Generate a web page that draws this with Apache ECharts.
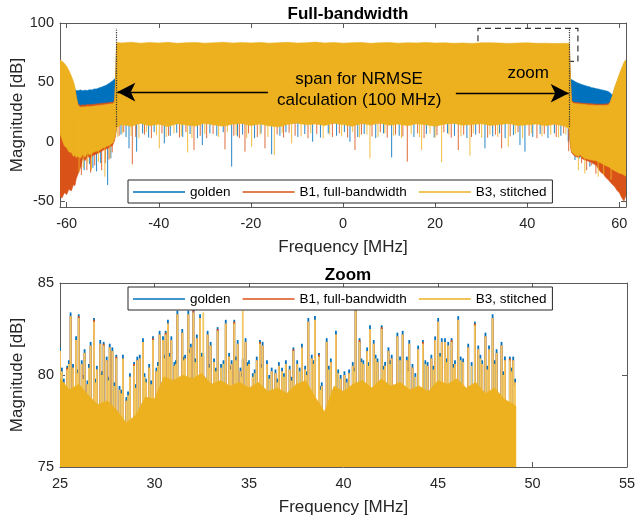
<!DOCTYPE html>
<html>
<head>
<meta charset="utf-8">
<script src="https://cdn.jsdelivr.net/npm/echarts@6/dist/echarts.min.js"></script>
<style>
  html, body { margin: 0; padding: 0; background: #fff; }
  #chart { width: 637px; height: 520px; }
</style>
</head>
<body>
<div id="chart"></div>
<script>
var FONT = '"Liberation Sans", Arial, Helvetica, sans-serif';
var BLUE = '#0072BD', RED = '#D95319', YELLOW = '#EDB120', PALE_YELLOW = '#F3C862';
var seriesNames = ['golden', 'B1, full-bandwidth', 'B3, stitched'];

// ---- Full-bandwidth panel: envelope of each spectrum, rows = [freq MHz, low dB, high dB]
var goldenBand = [
  [-61.44, 8, 60], [-61.0, 3, 59], [-60.0, -4, 55], [-59.0, -8, 49], [-58.2, -10, 43.5],
  [-57.9, -12, 43.2], [-57.5, -11, 43.0], [-57.0, -12, 43.6], [-56.5, -10, 42.9], [-56.0, -12, 43.4],
  [-55.5, -9, 43.1], [-55.0, -10, 43.8], [-54.5, -9, 43.6], [-54.0, -8, 44.4], [-53.5, -7, 44.5],
  [-53.0, -7, 45.3], [-52.5, -6, 45.8], [-52.0, -4.5, 46.7], [-51.5, -4, 47.4], [-51.0, -3, 48.6],
  [-50.5, -2, 49.8], [-50.0, -0.5, 51.3], [-49.6, 3, 52.8], [-49.4, 6.5, 53.5], [-49.25, 10.5, 65],
  [-49.14, 16, 82], [-30, 16, 82], [0, 16, 82], [30, 16, 82], [49.14, 16, 82],
  [49.25, 5, 62], [49.4, -2, 52.8], [49.6, -7, 52.3], [50.0, -9, 51.5], [50.4, -10, 50.6],
  [51.0, -11, 49.4], [51.5, -10, 48.7], [52.0, -12, 47.9], [52.5, -12.5, 47.4], [53.0, -13.5, 46.7],
  [53.5, -14, 46.3], [54.0, -14.5, 45.5], [54.5, -15, 45.2], [55.0, -15, 44.6], [55.5, -16, 44.3],
  [56.0, -17, 43.8], [56.5, -18, 43.4], [57.0, -19, 43.0], [57.6, -20, 42.2], [58.2, -21.5, 40.5],
  [58.5, -22.5, 39], [59.0, -23.5, 45], [60.0, -25.5, 55], [61.0, -27, 64], [61.44, -28, 66]
];
var b1Band = [
  [-61.44, -46, 66], [-61.0, -47.5, 65], [-60.5, -43, 63], [-60.0, -44.5, 61], [-59.5, -40, 57],
  [-59.0, -41.5, 53], [-58.5, -36, 48.5], [-58.2, -37, 44], [-57.9, -31, 36], [-57.5, -27, 31.5],
  [-57.0, -22, 30.6], [-56.5, -14, 31.0], [-56.0, -16, 30.8], [-55.5, -12, 31.3], [-55.0, -13.5, 31.2],
  [-54.0, -11, 31.6], [-53.0, -9.5, 32.0], [-52.0, -7, 32.4], [-51.0, -5.5, 32.8], [-50.0, -3, 33.2],
  [-49.6, 1, 34.5], [-49.4, 5, 48], [-49.25, 9, 66], [-49.14, 16, 80], [0, 16, 80],
  [49.14, 16, 80], [49.25, 3, 66], [49.4, -4, 50], [49.6, -9, 35.0], [50.0, -11, 33.4],
  [50.5, -12.5, 33.1], [51.0, -13, 32.9], [51.5, -12, 32.6], [52.0, -14.5, 32.5], [53.0, -16, 32.1],
  [54.0, -17.5, 31.9], [55.0, -20, 31.6], [55.5, -23, 31.6], [56.0, -26, 31.6], [56.5, -27, 31.6],
  [57.0, -30, 31.7], [57.6, -32, 32.0], [58.0, -34, 33.5], [58.5, -36, 38], [59.0, -38, 44],
  [59.5, -41, 50], [60.0, -43, 55], [60.5, -47, 60], [61.0, -50, 64], [61.44, -45, 66]
];
var b3Band = [
  [-61.44, 7.0, 68.8], [-61.0, 2.0, 67.8], [-60.5, -3.5, 66.0], [-60.0, -5.0, 63.5], [-59.5, -8.5, 60.0],
  [-59.0, -9.0, 55.5], [-58.5, -12.5, 50.5], [-58.2, -11.0, 45.5], [-57.9, -13.5, 38.0], [-57.5, -12.0, 30.5],
  [-57.0, -14.0, 29.0], [-56.5, -10.5, 29.3], [-56.0, -13.0, 29.2], [-55.5, -9.5, 29.6], [-55.0, -11.0, 29.5],
  [-54.0, -8.5, 30.0], [-53.0, -7.5, 30.5], [-52.0, -5.0, 31.0], [-51.0, -3.5, 31.5], [-50.0, -1.0, 32.0],
  [-49.6, 2.5, 33.5], [-49.4, 6.0, 50.0], [-49.25, 10.0, 70.0],
  [-49.14, 12.0, 83.5], [-48, 14.5, 83.2], [-46, 13.0, 83.8], [-44, 15.5, 83.0], [-42, 13.5, 83.5],
  [-40, 14.8, 83.1], [-38, 12.8, 83.7], [-36, 15.2, 82.9], [-34, 14.0, 83.4], [-32, 13.2, 83.6],
  [-30, 15.6, 83.0], [-28, 14.1, 83.3], [-26, 13.0, 83.8], [-24, 14.7, 83.1], [-22, 15.4, 83.5],
  [-20, 13.6, 83.2], [-18, 14.9, 83.6], [-16, 13.3, 83.0], [-14, 12.5, 83.4], [-12, 14.6, 83.7],
  [-10, 15.8, 83.1], [-8, 14.2, 83.3], [-6, 15.0, 83.9], [-4, 13.7, 83.2], [-2, 15.5, 83.5],
  [0, 14.4, 83.0], [2, 13.1, 83.4], [4, 15.3, 83.6], [6, 14.0, 82.9], [8, 15.7, 83.3],
  [10, 13.8, 83.5], [12, 14.9, 83.0], [14, 13.4, 83.4], [16, 15.1, 83.2], [18, 14.3, 83.6],
  [20, 13.0, 83.1], [22, 14.8, 83.3], [24, 15.5, 82.9], [26, 13.9, 83.2], [28, 14.6, 82.8],
  [30, 15.2, 83.3], [32, 13.7, 83.4], [34, 14.5, 83.1], [36, 15.4, 82.8], [38, 13.6, 83.1],
  [40, 14.2, 83.3], [42, 15.0, 82.9], [44, 13.5, 83.0], [46, 14.7, 82.7], [48, 13.2, 82.9],
  [49.14, 11.0, 82.8],
  [49.25, 4.0, 70.0], [49.4, -3.0, 52.0], [49.6, -8.0, 34.0], [50.0, -10.0, 32.3], [50.5, -11.5, 32.0],
  [51.0, -12.0, 31.8], [51.5, -11.0, 31.6], [52.0, -13.0, 31.5], [53.0, -14.5, 31.0], [54.0, -15.5, 30.8],
  [55.0, -16.0, 30.5], [56.0, -18.0, 30.5], [57.0, -20.0, 30.5], [57.6, -21.0, 30.8], [58.0, -22.0, 33.0],
  [58.5, -23.5, 39.0], [59.0, -24.5, 46.0], [59.5, -25.5, 51.5], [60.0, -26.5, 57.0], [60.5, -27.0, 62.0],
  [61.0, -28.0, 67.0], [61.44, -29.0, 69.0]
];

// downward spikes below the envelopes, rows = [freq MHz, dB]
var goldenDips = [
  [-56.2, -24], [-55.0, -19], [-54.3, -22], [-53.5, -25], [-52.6, -18], [-51.1, -36.5], [-50.4, -14],
  [-46.46, -5.6], [-44.8, -8.4], [-38.79, -1.4], [-30.54, -2.8], [-24.17, -21], [-15.49, -10.6], [-6.59, 0],
  [1.51, 0], [10.56, -13.2], [30.82, -5.6], [38.42, -2.8], [39.5, -8.4], [48.9, 0],
  [-48.2, 6], [-47.1, 4], [-43.5, 7], [-42.2, 3.5], [-41, 8], [-37.5, 5], [-36.1, 7.5], [-34.8, 4],
  [-33.2, 6.5], [-31.6, 3], [-28.9, 7], [-27.4, 5], [-26.0, 8], [-22.9, 4.5], [-21.8, 6], [-19.2, 3],
  [-17.8, 7], [-13.7, 5], [-12.4, 8], [-9.8, 4], [-8.3, 6.5], [-4.9, 3.5], [-3.2, 7], [-1.4, 5],
  [0.3, 8], [3.2, 4], [4.6, 6.5], [7.1, 3], [8.8, 7], [12.2, 5], [15.4, 4], [18.1, 6.5], [19.8, 3.5],
  [22.7, 7], [24.2, 5], [26.9, 3], [28.8, 6], [32.5, 4.5], [34.0, 7], [35.2, 3], [37.0, 5.5], [41.2, 4],
  [42.8, 6.5], [44.5, 3], [45.9, 7], [47.3, 5],
  [50.37, -15.4], [51.4, -14], [53.6, -21.1], [54.3, -19], [55.8, -24], [57.2, -26]
];
var b1Dips = [
  [-56.8, -28], [-55.6, -24], [-54.8, -26], [-53.9, -20], [-52.4, -23.9], [-51.6, -18], [-50.8, -15], [-50.1, -9],
  [-45.74, -19.1], [-32.35, -7], [-25.62, -6.4], [-21.28, -8.4], [-16.94, -5.6], [2.6, -7], [13.96, -16.8],
  [25.03, -7], [34.44, -5.6], [49.0, -8],
  [-48.6, 5], [-47.6, 8], [-45.0, 4], [-43.1, 6], [-41.6, 3], [-39.3, 7], [-37.9, 5], [-35.5, 3.5],
  [-34.1, 8], [-31.0, 5], [-29.6, 3], [-28.2, 6.5], [-23.7, 5], [-22.5, 3], [-20.5, 7], [-18.6, 4],
  [-14.3, 6], [-12.9, 3.5], [-11.7, 7.5], [-10.4, 5], [-7.6, 3], [-5.7, 6.5], [-2.3, 4], [-0.8, 7],
  [1.0, 3.5], [4.0, 6], [6.3, 4.5], [8.1, 8], [9.6, 3.5], [11.4, 6], [13.0, 4.5], [16.2, 7], [17.6, 3],
  [20.4, 5.5], [21.9, 8], [23.5, 3.5], [26.2, 6], [27.9, 4], [29.6, 7], [31.4, 3.5], [33.1, 6],
  [36.3, 4.5], [38.0, 8], [40.4, 5], [42.1, 3], [43.7, 6.5], [46.3, 4], [47.9, 7],
  [51.8, -18.2], [52.9, -24], [53.9, -20], [54.9, -27]
];
var b3Dips = [
  [-57.3, -26], [-56.4, -22], [-55.4, -18], [-54.6, -24], [-53.1, -17], [-51.7, -29.5], [-50.6, -14],
  [-39.88, -5.6], [-33.73, -9], [-19.83, -4.2], [-14.91, -11.2], [-11.15, -1.4], [5.85, -14], [17.07, -7],
  [21.41, -17.4], [27.56, -11.8], [35.88, -4.2],
  [-48.9, 4], [-47.9, 7], [-46.0, 5], [-44.3, 3], [-42.7, 8], [-40.5, 5.5], [-38.4, 4], [-36.7, 7],
  [-35.1, 5], [-32.8, 3], [-30.0, 6.5], [-27.0, 4], [-25.1, 8], [-23.2, 5.5], [-20.9, 3], [-18.0, 6],
  [-16.3, 4], [-13.2, 7.5], [-9.1, 4.5], [-7.0, 7], [-4.3, 3], [-2.9, 6], [-0.3, 4.5], [2.1, 8],
  [3.6, 3.5], [5.2, 6], [7.6, 4], [9.1, 7], [11.0, 5], [12.7, 3], [14.8, 6.5], [16.6, 4], [18.9, 7],
  [20.0, 3.5], [23.0, 6], [25.6, 4.5], [28.3, 7], [30.1, 3.5], [31.9, 6], [33.6, 4], [37.4, 6.5],
  [39.0, 3], [40.9, 7], [43.2, 4.5], [45.1, 6], [46.8, 3.5], [48.4, 6],
  [51.1, -23.9], [52.5, -26.7], [55.4, -29.5], [56.6, -28], [58.2, -32]
];

// ---- Zoom panel (25..55 MHz): peak values at each resolved peak
var zoomFreq = [
  25.00, 25.20, 25.38, 25.56, 25.69, 25.85, 25.99, 26.15, 26.30, 26.45,
  26.62, 26.80, 26.95, 27.13, 27.31, 27.47, 27.63, 27.77, 27.98, 28.15,
  28.33, 28.51, 28.70, 28.92, 29.09, 29.22, 29.39, 29.55, 29.72, 29.92,
  30.10, 30.27, 30.45, 30.59, 30.71, 30.89, 31.05, 31.21, 31.47, 31.62,
  31.79, 31.92, 32.06, 32.24, 32.41, 32.58, 32.81, 32.97, 33.15, 33.34,
  33.52, 33.77, 33.95, 34.08, 34.22, 34.40, 34.55, 34.67, 34.82, 35.00,
  35.20, 35.41, 35.58, 35.72, 35.95, 36.20, 36.40, 36.58, 36.75, 36.95,
  37.15, 37.35, 37.55, 37.80, 37.97, 38.14, 38.32, 38.49, 38.70, 38.85,
  39.11, 39.33, 39.60, 39.85, 40.05, 40.30, 40.49, 40.64, 40.85, 41.05,
  41.25, 41.40, 41.60, 41.80, 42.02, 42.20, 42.38, 42.55, 42.85, 43.13,
  43.35, 43.48, 43.65, 43.95, 44.20, 44.45, 44.65, 44.85, 45.01, 45.20,
  45.37, 45.54, 45.72, 45.90, 46.07, 46.33, 46.60, 46.95, 47.13, 47.34,
  47.51, 47.70, 47.89, 48.10, 48.36, 48.54, 48.80, 48.98, 49.08
];
var goldenZoom = [
  81.5, 79.8, 80.5, 83.4, 80.6, 82.1, 83.3, 80.8, 81.4, 79.7,
  81.8, 83.1, 80.5, 81.9, 81.8, 81.0, 81.7, 81.5, 81.1, 79.4,
  81.1, 78.8, 80.1, 80.7, 81.0, 81.1, 82.0, 79.8, 80.6, 82.1,
  80.4, 82.4, 82.1, 82.4, 83.0, 82.1, 80.7, 83.5, 82.5, 81.1,
  83.5, 81.7, 83.6, 82.2, 83.3, 81.2, 82.4, 81.8, 80.9, 82.6,
  80.6, 83.0, 81.2, 80.8, 83.0, 81.9, 80.4, 80.9, 82.0, 80.8,
  80.1, 81.0, 81.9, 81.8, 80.8, 80.4, 80.3, 80.7, 80.4, 80.8,
  80.5, 81.5, 80.8, 81.7, 80.5, 83.1, 81.1, 83.2, 81.2, 79.6,
  82.0, 80.9, 82.4, 80.0, 80.2, 80.3, 80.7, 83.6, 82.0, 80.8,
  81.5, 82.7, 81.9, 80.9, 82.7, 80.7, 81.5, 81.1, 82.3, 82.4,
  81.0, 81.9, 80.6, 81.6, 81.9, 80.7, 81.1, 82.1, 83.1, 82.0,
  82.0, 81.8, 82.0, 80.8, 83.2, 80.9, 81.7, 82.9, 81.6, 80.8,
  82.3, 81.6, 83.3, 81.4, 81.8, 81.0, 81.0, 81.0, 79.8
];
var b1Zoom = [
  81.3, 79.6, 80.4, 83.2, 80.4, 81.9, 83.2, 80.6, 81.2, 79.5,
  81.6, 83.0, 80.3, 81.7, 81.7, 80.8, 81.5, 81.3, 81.0, 79.2,
  80.9, 78.6, 79.9, 80.6, 80.8, 80.9, 81.8, 79.6, 80.4, 82.0,
  80.2, 82.2, 81.9, 82.3, 82.8, 81.9, 80.5, 83.3, 82.3, 80.9,
  83.3, 81.5, 83.5, 82.0, 83.1, 81.0, 82.2, 81.6, 80.7, 82.5,
  80.4, 82.8, 81.0, 80.6, 82.9, 81.7, 80.2, 80.8, 81.8, 80.6,
  79.9, 80.8, 81.8, 81.6, 80.6, 80.2, 80.1, 80.5, 80.2, 80.6,
  80.3, 81.4, 80.6, 81.5, 80.3, 82.9, 80.9, 83.0, 81.1, 79.4,
  81.8, 80.7, 82.2, 79.8, 80.0, 80.1, 80.5, 83.5, 81.9, 80.6,
  81.3, 82.5, 81.7, 80.7, 82.6, 80.5, 81.3, 80.9, 82.1, 82.2,
  80.8, 81.7, 80.4, 81.4, 81.8, 80.5, 80.9, 81.9, 82.9, 81.8,
  81.8, 81.6, 81.9, 80.6, 83.0, 80.7, 81.5, 82.8, 81.4, 80.6,
  82.1, 81.4, 83.1, 81.2, 81.6, 80.8, 80.9, 80.8, 79.6
];
var b3Zoom = [
  81.3, 79.6, 80.3, 83.2, 80.4, 81.9, 83.1, 80.6, 81.2, 79.5,
  81.6, 82.9, 80.3, 81.7, 81.6, 80.8, 81.5, 81.3, 80.9, 79.2,
  80.9, 78.6, 79.9, 80.5, 80.8, 80.9, 81.8, 79.6, 80.4, 81.9,
  80.2, 82.2, 81.9, 82.2, 82.8, 81.9, 80.5, 83.3, 82.3, 80.9,
  83.3, 81.5, 83.4, 82.0, 83.1, 83.4, 82.2, 81.6, 80.7, 82.4,
  80.4, 82.8, 81.0, 80.6, 82.8, 81.7, 80.2, 83.5, 81.8, 80.6,
  79.9, 80.8, 81.7, 81.6, 80.6, 80.2, 80.1, 80.5, 80.2, 80.6,
  80.3, 81.3, 80.6, 81.5, 80.3, 82.9, 80.9, 83.0, 81.0, 79.4,
  81.8, 80.7, 82.2, 79.8, 80.0, 80.1, 80.5, 83.5, 81.8, 80.6,
  81.3, 82.5, 81.7, 80.7, 82.5, 80.5, 81.3, 80.9, 82.1, 82.2,
  80.8, 81.7, 80.4, 81.4, 81.7, 80.5, 80.9, 81.9, 82.9, 81.8,
  81.8, 81.6, 81.8, 80.6, 83.0, 80.7, 81.5, 82.7, 81.4, 80.6,
  82.1, 81.4, 83.1, 81.2, 81.6, 80.8, 80.8, 80.8, 79.6
];
// smaller peaks between the resolved ones
var zoomMinorFreq = [
  25.10, 25.47, 25.92, 26.22, 26.53, 26.88, 27.22, 27.55, 27.88, 28.24,
  28.60, 29.00, 29.47, 29.82, 30.18, 30.52, 30.80, 31.13, 31.55, 31.86,
  32.15, 32.50, 32.89, 33.25, 33.65, 34.01, 34.31, 34.61, 34.91, 35.30,
  35.65, 36.07, 36.49, 36.85, 37.25, 37.68, 38.05, 38.41, 38.78, 39.22,
  39.72, 40.17, 40.57, 40.95, 41.33, 41.70, 42.11, 42.46, 42.99, 43.42,
  43.80, 44.33, 44.75, 45.11, 45.46, 45.81, 46.20, 46.78, 47.24, 47.60,
  48.00, 48.45, 48.89, 49.03
];
var goldenZoomMinor = [
  80.4, 80.8, 80.3, 80.0, 80.6, 79.8, 80.2, 79.9, 79.6, 79.2,
  79.1, 79.5, 80.1, 79.7, 80.7, 81.1, 81.2, 80.8, 81.0, 81.4,
  80.9, 81.2, 80.6, 80.4, 80.8, 80.5, 81.0, 80.1, 80.7, 80.3,
  80.6, 80.0, 79.8, 80.1, 79.9, 80.4, 80.2, 80.8, 79.4, 80.5,
  80.3, 79.8, 80.4, 80.9, 80.7, 81.1, 80.5, 80.8, 81.0, 80.4,
  80.1, 80.8, 80.5, 81.2, 80.9, 80.6, 81.0, 80.7, 81.1, 80.5,
  80.8, 80.2, 80.4, 79.6
];
var b3ZoomMinor = [
  80.2, 80.6, 80.1, 79.8, 80.4, 79.6, 80.0, 79.7, 79.4, 79.0,
  78.9, 79.3, 79.9, 79.5, 80.5, 80.9, 81.0, 80.6, 80.8, 81.2,
  80.7, 81.0, 80.4, 80.2, 80.6, 80.3, 80.8, 79.9, 80.5, 80.1,
  80.4, 79.8, 79.6, 79.9, 79.7, 80.2, 80.0, 80.6, 79.2, 80.3,
  80.1, 79.6, 80.2, 80.7, 80.5, 80.9, 80.3, 80.6, 80.8, 80.2,
  79.9, 80.6, 80.3, 81.0, 80.7, 80.4, 80.8, 80.5, 80.9, 80.3,
  80.6, 80.0, 80.2, 79.4
];
// dense floor of the stitched spectrum in the zoom panel, rows = [freq MHz, dB]
var b3ZoomFloor = [
  [25.0, 79.8], [25.5, 79.2], [26.0, 79.5], [26.5, 78.9], [27.0, 78.4], [27.5, 78.6], [28.0, 78.1],
  [28.5, 77.4], [29.0, 77.8], [29.5, 78.8], [30.0, 78.7], [30.5, 79.9], [31.0, 79.7], [31.5, 80.0],
  [32.0, 79.8], [32.5, 80.1], [33.0, 79.5], [33.5, 79.7], [34.0, 79.4], [34.5, 79.6], [35.0, 79.3],
  [35.5, 79.6], [36.0, 79.1], [36.5, 79.3], [37.0, 79.0], [37.5, 79.5], [38.0, 79.7], [38.5, 78.8],
  [39.0, 78.0], [39.5, 79.4], [40.0, 79.1], [40.5, 79.5], [41.0, 79.7], [41.5, 79.3], [42.0, 79.8],
  [42.5, 79.4], [43.0, 79.6], [43.5, 79.2], [44.0, 79.4], [44.5, 79.1], [45.0, 79.7], [45.5, 79.5],
  [46.0, 79.8], [46.5, 79.3], [47.0, 79.6], [47.5, 79.0], [48.0, 79.3], [48.5, 78.7], [49.0, 78.4],
  [49.12, 78.3]
];

var topTicksX = [-60, -40, -20, 0, 20, 40, 60];
var topTicksY = [-50, 0, 50, 100];

// filled band between low and high envelope (or from a base level up to the envelope)
function band(name, color, rows, base, xi, yi) {
  return {
    type: 'custom', name: name, xAxisIndex: xi, yAxisIndex: yi, clip: true, silent: true,
    itemStyle: { color: color },
    data: rows,
    renderItem: function (params, api) {
      if (params.dataIndex !== 0) return null;
      var top = [], bottom = [];
      rows.forEach(function (r) {
        top.push(api.coord([r[0], r[r.length - 1]]));
        bottom.unshift(api.coord([r[0], r.length > 2 ? r[1] : base]));
      });
      return {
        type: 'polygon',
        shape: { points: top.concat(bottom) },
        style: { fill: color, stroke: color, lineWidth: 0.6 }
      };
    }
  };
}

// vertical spikes drawn from a base level to each value
function spikes(name, color, rows, base, xi, yi, width, opacity) {
  return {
    type: 'custom', name: name, xAxisIndex: xi, yAxisIndex: yi, clip: true, silent: true,
    itemStyle: { color: color },
    data: rows,
    renderItem: function (params, api) {
      var a = api.coord([api.value(0), base]);
      var b = api.coord([api.value(0), api.value(1)]);
      return {
        type: 'line',
        shape: { x1: a[0], y1: a[1], x2: b[0], y2: b[1] },
        style: { stroke: color, lineWidth: width, opacity: opacity }
      };
    }
  };
}

function pairs(xs, ys) {
  return xs.map(function (x, i) { return [x, ys[i]]; });
}

function axisLook(extra) {
  var base = {
    axisLine: { show: true, onZero: false, lineStyle: { color: '#5a5a5a', width: 1 } },
    axisTick: { show: true, inside: true, length: 5, lineStyle: { color: '#5a5a5a' } },
    axisLabel: { color: '#262626', fontSize: 14.5, fontFamily: FONT },
    splitLine: { show: false },
    nameTextStyle: { color: '#262626', fontSize: 17, fontFamily: FONT }
  };
  for (var k in extra) {
    if (typeof extra[k] === 'object' && base[k] && !Array.isArray(extra[k])) {
      base[k] = Object.assign({}, base[k], extra[k]);
    } else {
      base[k] = extra[k];
    }
  }
  return base;
}

var topSpikes = spikes(seriesNames[2], YELLOW, b3Dips, 20, 0, 0, 1, 0.85);
topSpikes.markLine = {
  silent: true, symbol: ['none', 'none'], animation: false,
  label: { show: false },
  lineStyle: { color: '#333', type: 'dotted', width: 1.2 },
  data: [
    [{ coord: [-49.14, 12.5] }, { coord: [-49.14, 95.5] }],
    [{ coord: [49.14, 12.5] }, { coord: [49.14, 95.5] }],
    [{ coord: [-16.3, 41.8], lineStyle: { color: '#000', type: 'solid', width: 1.3 } },
     { coord: [-49.0, 41.8], symbol: 'arrow', symbolSize: [14, 18] }],
    [{ coord: [24.5, 40.8], lineStyle: { color: '#000', type: 'solid', width: 1.3 } },
     { coord: [49.0, 40.8], symbol: 'arrow', symbolSize: [14, 18] }]
  ]
};
topSpikes.markArea = {
  silent: true,
  itemStyle: { color: 'rgba(0,0,0,0)', borderColor: '#333', borderWidth: 1.2, borderType: [6, 4] },
  label: { show: false },
  data: [[{ coord: [29.3, 67.6] }, { coord: [51.0, 95.5] }]]
};
topSpikes.markPoint = {
  silent: true, symbol: 'circle', symbolSize: 0,
  label: { show: true, position: 'inside', color: '#000', fontSize: 17, lineHeight: 21,
           fontFamily: FONT },
  data: [
    { coord: [3.5, 43.5], label: { formatter: 'span for NRMSE\ncalculation (100 MHz)' } },
    { coord: [40.2, 58], label: { formatter: 'zoom' } }
  ]
};

function legendAt(top) {
  return {
    top: top, left: 128, orient: 'horizontal', selectedMode: false,
    itemWidth: 52, itemHeight: 1.6, itemGap: 12, icon: 'rect',
    padding: [5, 6, 4, 5],
    backgroundColor: '#fff', borderColor: '#262626', borderWidth: 1,
    textStyle: { color: '#000', fontSize: 13.5, fontFamily: FONT },
    data: seriesNames
  };
}

var chart = echarts.init(document.getElementById('chart'), null, { renderer: 'canvas' });
chart.setOption({
  animation: false,
  backgroundColor: '#fff',
  color: [BLUE, RED, YELLOW],
  title: [
    { text: 'Full-bandwidth', left: 343, top: 1, textAlign: 'center',
      textStyle: { fontSize: 17, fontWeight: 'bold', color: '#000', fontFamily: FONT } },
    { text: 'Zoom', left: 343, top: 262, textAlign: 'center',
      textStyle: { fontSize: 17, fontWeight: 'bold', color: '#000', fontFamily: FONT } }
  ],
  legend: [legendAt(180), legendAt(287)],
  grid: [
    { left: 60, right: 11, top: 23, height: 184, outerBoundsMode: 'none', containLabel: false },
    { left: 60, right: 10, top: 283, height: 184, outerBoundsMode: 'none', containLabel: false }
  ],
  xAxis: [
    axisLook({ type: 'value', gridIndex: 0, min: -61.44, max: 61.44, position: 'bottom',
      name: 'Frequency [MHz]', nameLocation: 'middle', nameGap: 32,
      axisTick: { customValues: topTicksX }, axisLabel: { customValues: topTicksX, margin: 9 } }),
    axisLook({ type: 'value', gridIndex: 0, min: -61.44, max: 61.44, position: 'top',
      axisTick: { customValues: topTicksX }, axisLabel: { show: false } }),
    axisLook({ type: 'value', gridIndex: 1, min: 25, max: 55, interval: 5, position: 'bottom',
      name: 'Frequency [MHz]', nameLocation: 'middle', nameGap: 32, axisLabel: { margin: 9 } }),
    axisLook({ type: 'value', gridIndex: 1, min: 25, max: 55, interval: 5, position: 'top',
      axisLabel: { show: false } })
  ],
  yAxis: [
    axisLook({ type: 'value', gridIndex: 0, min: -55, max: 100, position: 'left',
      name: 'Magnitude [dB]', nameLocation: 'middle', nameGap: 34, nameMoveOverlap: false,
      axisTick: { customValues: topTicksY }, axisLabel: { customValues: topTicksY, margin: 6 } }),
    axisLook({ type: 'value', gridIndex: 0, min: -55, max: 100, position: 'right',
      axisTick: { customValues: topTicksY }, axisLabel: { show: false } }),
    axisLook({ type: 'value', gridIndex: 1, min: 75, max: 85, interval: 5, position: 'left',
      name: 'Magnitude [dB]', nameLocation: 'middle', nameGap: 34, nameMoveOverlap: false,
      axisLabel: { margin: 6 } }),
    axisLook({ type: 'value', gridIndex: 1, min: 75, max: 85, interval: 5, position: 'right',
      axisLabel: { show: false } })
  ],
  series: [
    band(seriesNames[0], BLUE, goldenBand, null, 0, 0),
    spikes(seriesNames[0], BLUE, goldenDips, 20, 0, 0, 1, 0.85),
    band(seriesNames[1], RED, b1Band, null, 0, 0),
    spikes(seriesNames[1], RED, b1Dips, 20, 0, 0, 1, 0.85),
    band(seriesNames[2], YELLOW, b3Band, null, 0, 0),
    topSpikes,
    spikes(seriesNames[0], BLUE, pairs(zoomFreq, goldenZoom), 74, 2, 2, 1.8, 1),
    spikes(seriesNames[0], BLUE, pairs(zoomMinorFreq, goldenZoomMinor), 74, 2, 2, 1.8, 1),
    spikes(seriesNames[1], RED, pairs(zoomFreq, b1Zoom), 74, 2, 2, 1.8, 1),
    spikes(seriesNames[2], PALE_YELLOW, pairs(zoomFreq, b3Zoom), 74, 2, 2, 1.8, 1),
    spikes(seriesNames[2], PALE_YELLOW, pairs(zoomMinorFreq, b3ZoomMinor), 74, 2, 2, 1.8, 1),
    band(seriesNames[2], YELLOW, b3ZoomFloor, 74, 2, 2)
  ]
});
</script>
</body>
</html>
